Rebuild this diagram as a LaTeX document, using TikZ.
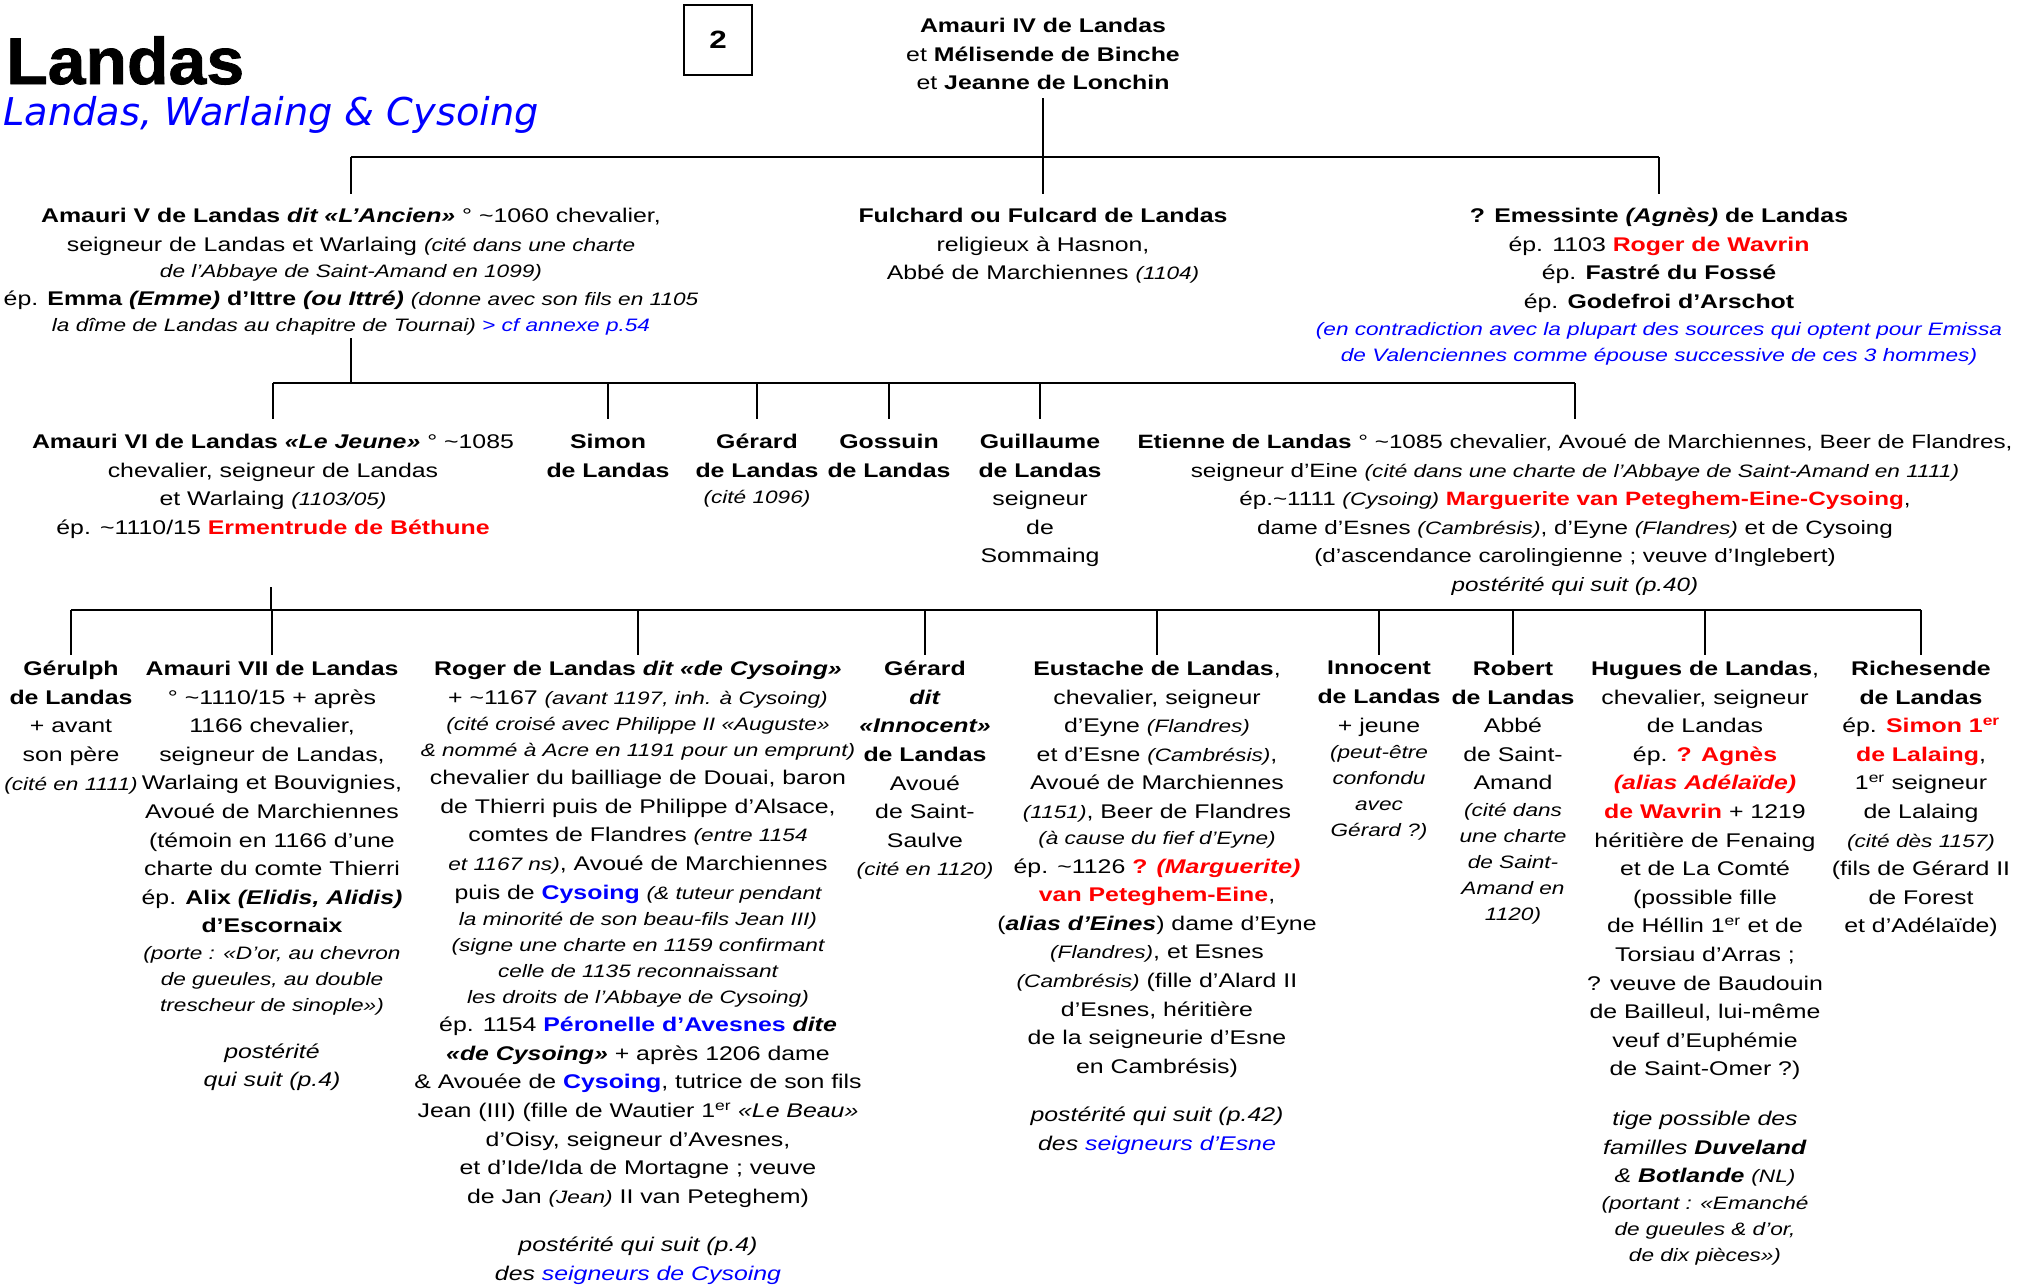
\documentclass[tikz,border=0pt]{standalone}
\usepackage{fontspec}
\setmainfont{Liberation Sans}[FakeStretch=1.256]
\newfontfamily\titlefont{Liberation Sans}[FakeStretch=1.03,FakeBold=1.2]
\newfontfamily\subfont{DejaVu Sans}
\definecolor{myred}{RGB}{255,0,0}
\definecolor{myblue}{RGB}{0,0,255}
\newcommand\smi[1]{{\fontsize{18}{28.6}\selectfont\itshape #1}}
\newcommand\colR[1]{\textcolor{myred}{#1}}
\newcommand\colB[1]{\textcolor{myblue}{#1}}
\newcommand\supER{\textsuperscript{er}}
\newcommand\tld{\textasciitilde}
\begin{document}
\begin{tikzpicture}[x=1pt,y=-1pt,
  person/.style={anchor=north,inner sep=0pt,align=center,font={\fontsize{19.8}{28.6}\selectfont}},
  conn/.style={line width=2pt}]
\useasboundingbox (0,0) rectangle (2023,1286);

% title
\node[anchor=base west,inner sep=0pt,font={\titlefont\bfseries\fontsize{66}{70}\selectfont}] (title) at (6,84) {Landas};
\node[anchor=base west,inner sep=0pt,font={\subfont\itshape\fontsize{38.3}{40}\selectfont},text=myblue] (subtitle) at (3,125) {Landas, Warlaing \& Cysoing};
\node[draw,line width=1.2pt,minimum width=68pt,minimum height=70pt,inner sep=0pt,font={\bfseries\fontsize{25}{30}\selectfont}] (pagebox) at (718,40) {2};

% row 1
\node[person] (amIV) at (1043,18) {\textbf{Amauri IV de Landas}\\et \textbf{Mélisende de Binche}\\et \textbf{Jeanne de Lonchin}};

% row 2
\node[person] (amV) at (351,208) {\textbf{Amauri V de Landas \textit{dit «L’Ancien»}} ° \tld1060 chevalier,\\
seigneur de Landas et Warlaing \smi{(cité dans une charte}\\[-2.6pt]
\smi{de l’Abbaye de Saint-Amand en 1099)}\\
ép. \textbf{Emma \textit{(Emme)} d’Ittre \textit{(ou Ittré)}} \smi{(donne avec son fils en 1105}\\[-2.6pt]
\smi{la dîme de Landas au chapitre de Tournai) \colB{> cf annexe p.54}}};
\node[person] (fulc) at (1043,208) {\textbf{Fulchard ou Fulcard de Landas}\\religieux à Hasnon,\\Abbé de Marchiennes \smi{(1104)}};
\node[person] (emes) at (1659,208) {\textbf{? Emessinte \textit{(Agnès)} de Landas}\\ép. 1103 \colR{\textbf{Roger de Wavrin}}\\ép. \textbf{Fastré du Fossé}\\ép. \textbf{Godefroi d’Arschot}\\[-1.6pt]
\colB{\smi{(en contradiction avec la plupart des sources qui optent pour Emissa}}\\[-2.6pt]
\colB{\smi{de Valenciennes comme épouse successive de ces 3 hommes)}}};

% row 3
\node[person] (amVI) at (273,434) {\textbf{Amauri VI de Landas \textit{«Le Jeune»}} ° \tld1085\\chevalier, seigneur de Landas\\et Warlaing \smi{(1103/05)}\\ép. \tld1110/15 \colR{\textbf{Ermentrude de Béthune}}};
\node[person] (simon) at (608,434) {\textbf{Simon}\\\textbf{de Landas}};
\node[person] (gerard) at (757,434) {\textbf{Gérard}\\\textbf{de Landas}\\[-2.6pt]\smi{(cité 1096)}};
\node[person] (goss) at (889,434) {\textbf{Gossuin}\\\textbf{de Landas}};
\node[person] (guil) at (1040,434) {\textbf{Guillaume}\\\textbf{de Landas}\\seigneur\\de\\Sommaing};
\node[person,font={\fontsize{19.3}{28.6}\selectfont}] (etien) at (1575,434) {\textbf{Etienne de Landas} ° \tld1085 chevalier, Avoué de Marchiennes, Beer de Flandres,\\
seigneur d’Eine \smi{(cité dans une charte de l’Abbaye de Saint-Amand en 1111)}\\
ép.\tld1111 \smi{(Cysoing)} \colR{\textbf{Marguerite van Peteghem-Eine-Cysoing}},\\
dame d’Esnes \smi{(Cambrésis)}, d’Eyne \smi{(Flandres)} et de Cysoing\\
(d’ascendance carolingienne ; veuve d’Inglebert)\\
\textit{postérité qui suit (p.40)}};

% row 4
\node[person] (gerul) at (71,661) {\textbf{Gérulph}\\\textbf{de Landas}\\+ avant\\son père\\\smi{(cité en 1111)}};
\node[person] (amVII) at (272,661) {\textbf{Amauri VII de Landas}\\° \tld1110/15 + après\\1166 chevalier,\\seigneur de Landas,\\Warlaing et Bouvignies,\\Avoué de Marchiennes\\(témoin en 1166 d’une\\charte du comte Thierri\\ép. \textbf{Alix \textit{(Elidis, Alidis)}}\\\textbf{d’Escornaix}\\[-2pt]
\smi{(porte : «D’or, au chevron}\\[-2.6pt]\smi{de gueules, au double}\\[-2.6pt]\smi{trescheur de sinople»)}\\[18pt]
\textit{postérité}\\\textit{qui suit (p.4)}};
\node[person] (roger) at (638,661) {\textbf{Roger de Landas \textit{dit «de Cysoing»}}\\
+ \tld1167 \smi{(avant 1197, inh. à Cysoing)}\\[-2.6pt]
\smi{(cité croisé avec Philippe II «Auguste»}\\[-2.6pt]
\smi{\& nommé à Acre en 1191 pour un emprunt)}\\
chevalier du bailliage de Douai, baron\\
de Thierri puis de Philippe d’Alsace,\\
comtes de Flandres \smi{(entre 1154}\\
\smi{et 1167 ns)}, Avoué de Marchiennes\\
puis de \colB{\textbf{Cysoing}} \smi{(\& tuteur pendant}\\[-2.6pt]
\smi{la minorité de son beau-fils Jean III)}\\[-2.6pt]
\smi{(signe une charte en 1159 confirmant}\\[-2.6pt]
\smi{celle de 1135 reconnaissant}\\[-2.6pt]
\smi{les droits de l’Abbaye de Cysoing)}\\
ép. 1154 \colB{\textbf{Péronelle d’Avesnes}} \textbf{\textit{dite}}\\
\textbf{\textit{«de Cysoing»}} + après 1206 dame\\
\& Avouée de \colB{\textbf{Cysoing}}, tutrice de son fils\\
Jean (III) (fille de Wautier 1\supER{} \textit{«Le Beau»}\\
d’Oisy, seigneur d’Avesnes,\\
et d’Ide/Ida de Mortagne ; veuve\\
de Jan \smi{(Jean)} II van Peteghem)\\[20pt]
\textit{postérité qui suit (p.4)}\\
\textit{des \colB{seigneurs de Cysoing}}};
\node[person] (gerinn) at (925,661) {\textbf{Gérard}\\\textbf{\textit{dit}}\\\textbf{\textit{«Innocent»}}\\\textbf{de Landas}\\Avoué\\de Saint-\\Saulve\\\smi{(cité en 1120)}};
\node[person] (eust) at (1157,661) {\textbf{Eustache de Landas},\\
chevalier, seigneur\\
d’Eyne \smi{(Flandres)}\\
et d’Esne \smi{(Cambrésis)},\\
Avoué de Marchiennes\\
\smi{(1151)}, Beer de Flandres\\[-2.6pt]
\smi{(à cause du fief d’Eyne)}\\
ép. \tld1126 \colR{\textbf{? \textit{(Marguerite)}}}\\
\colR{\textbf{van Peteghem-Eine}},\\
(\textbf{\textit{alias d’Eines}}) dame d’Eyne\\
\smi{(Flandres)}, et Esnes\\
\smi{(Cambrésis)} (fille d’Alard II\\
d’Esnes, héritière\\
de la seigneurie d’Esne\\
en Cambrésis)\\[20pt]
\textit{postérité qui suit (p.42)}\\
\textit{des \colB{seigneurs d’Esne}}};
\node[person] (innoc) at (1379,661) {\textbf{Innocent}\\\textbf{de Landas}\\+ jeune\\[-2pt]\smi{(peut-être}\\[-2.6pt]\smi{confondu}\\[-2.6pt]\smi{avec}\\[-2.6pt]\smi{Gérard ?)}};
\node[person] (robert) at (1513,661) {\textbf{Robert}\\\textbf{de Landas}\\Abbé\\de Saint-\\Amand\\[-2pt]\smi{(cité dans}\\[-2.6pt]\smi{une charte}\\[-2.6pt]\smi{de Saint-}\\[-2.6pt]\smi{Amand en}\\[-2.6pt]\smi{1120)}};
\node[person] (hugues) at (1705,661) {\textbf{Hugues de Landas},\\chevalier, seigneur\\de Landas\\ép. \colR{\textbf{? Agnès}}\\\colR{\textbf{\textit{(alias Adélaïde)}}}\\\colR{\textbf{de Wavrin}} + 1219\\héritière de Fenaing\\et de La Comté\\(possible fille\\de Héllin 1\supER{} et de\\Torsiau d’Arras ;\\? veuve de Baudouin\\de Bailleul, lui-même\\veuf d’Euphémie\\de Saint-Omer ?)\\[21pt]
\textit{tige possible des}\\\textit{familles \textbf{Duveland}}\\\textit{\& \textbf{Botlande}} \smi{(NL)}\\[-2pt]\smi{(portant : «Emanché}\\[-2.6pt]\smi{de gueules \& d’or,}\\[-2.6pt]\smi{de dix pièces»)}};
\node[person] (riche) at (1921,661) {\textbf{Richesende}\\\textbf{de Landas}\\ép. \colR{\textbf{Simon 1\supER}}\\\colR{\textbf{de Lalaing}},\\1\supER{} seigneur\\de Lalaing\\\smi{(cité dès 1157)}\\(fils de Gérard II\\de Forest\\et d’Adélaïde)};

% connectors
\coordinate (bus1) at (0,157);
\coordinate (d1) at (0,194);
\coordinate (amIVstem) at (1043,98);
\draw[conn] (amIVstem) -- (amIVstem |- d1);
\draw[conn] (amV.north |- bus1) -- (emes.north |- bus1);
\draw[conn] (amV.north |- bus1) -- (amV.north |- d1);
\draw[conn] (emes.north |- bus1) -- (emes.north |- d1);

\coordinate (bus2) at (0,383);
\coordinate (d2) at (0,419);
\coordinate (amVstem) at (351,338);
\draw[conn] (amVstem) -- (amVstem |- bus2);
\draw[conn] (amVI.north |- bus2) -- (etien.north |- bus2);
\foreach \n in {amVI,simon,gerard,goss,guil,etien}
  \draw[conn] (\n.north |- bus2) -- (\n.north |- d2);

\coordinate (bus3) at (0,610);
\coordinate (d3) at (0,655);
\coordinate (amVIstem) at (271,587);
\draw[conn] (amVIstem) -- (amVIstem |- bus3);
\draw[conn] (gerul.north |- bus3) -- (riche.north |- bus3);
\foreach \n in {gerul,amVII,roger,gerinn,eust,innoc,robert,hugues,riche}
  \draw[conn] (\n.north |- bus3) -- (\n.north |- d3);
\end{tikzpicture}
\end{document}
